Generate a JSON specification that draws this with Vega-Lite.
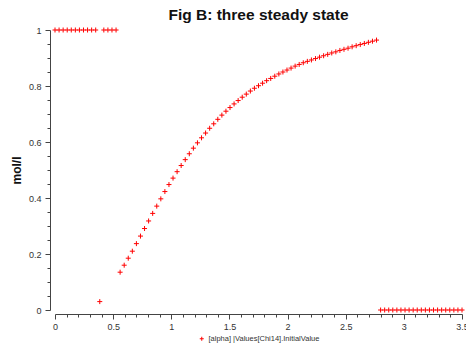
{
  "$schema": "https://vega.github.io/schema/vega-lite/v6.json",
  "autosize": {"type": "none"},
  "width": 407,
  "height": 280,
  "padding": {"left": 55, "top": 30, "right": 4, "bottom": 35},
  "background": "white",
  "title": {
    "text": "Fig B: three steady state",
    "anchor": "middle",
    "font": "Liberation Sans",
    "fontSize": 15.5,
    "fontWeight": "bold",
    "color": "#111",
    "baseline": "alphabetic",
    "offset": 6,
    "dy": 16
  },
  "config": {"view": {"stroke": null}},
  "data": {"values": [
    {"x": 0, "y": 1, "s": "[alpha] |Values[Chi14].InitialValue"},
    {"x": 0.035, "y": 1, "s": "[alpha] |Values[Chi14].InitialValue"},
    {"x": 0.07, "y": 1, "s": "[alpha] |Values[Chi14].InitialValue"},
    {"x": 0.105, "y": 1, "s": "[alpha] |Values[Chi14].InitialValue"},
    {"x": 0.14, "y": 1, "s": "[alpha] |Values[Chi14].InitialValue"},
    {"x": 0.175, "y": 1, "s": "[alpha] |Values[Chi14].InitialValue"},
    {"x": 0.21, "y": 1, "s": "[alpha] |Values[Chi14].InitialValue"},
    {"x": 0.245, "y": 1, "s": "[alpha] |Values[Chi14].InitialValue"},
    {"x": 0.28, "y": 1, "s": "[alpha] |Values[Chi14].InitialValue"},
    {"x": 0.315, "y": 1, "s": "[alpha] |Values[Chi14].InitialValue"},
    {"x": 0.35, "y": 1, "s": "[alpha] |Values[Chi14].InitialValue"},
    {"x": 0.385, "y": 0.03, "s": "[alpha] |Values[Chi14].InitialValue"},
    {"x": 0.42, "y": 1, "s": "[alpha] |Values[Chi14].InitialValue"},
    {"x": 0.455, "y": 1, "s": "[alpha] |Values[Chi14].InitialValue"},
    {"x": 0.49, "y": 1, "s": "[alpha] |Values[Chi14].InitialValue"},
    {"x": 0.525, "y": 1, "s": "[alpha] |Values[Chi14].InitialValue"},
    {"x": 0.56, "y": 0.135, "s": "[alpha] |Values[Chi14].InitialValue"},
    {"x": 0.595, "y": 0.16, "s": "[alpha] |Values[Chi14].InitialValue"},
    {"x": 0.63, "y": 0.185, "s": "[alpha] |Values[Chi14].InitialValue"},
    {"x": 0.665, "y": 0.21, "s": "[alpha] |Values[Chi14].InitialValue"},
    {"x": 0.7, "y": 0.237, "s": "[alpha] |Values[Chi14].InitialValue"},
    {"x": 0.735, "y": 0.264, "s": "[alpha] |Values[Chi14].InitialValue"},
    {"x": 0.77, "y": 0.291, "s": "[alpha] |Values[Chi14].InitialValue"},
    {"x": 0.805, "y": 0.318, "s": "[alpha] |Values[Chi14].InitialValue"},
    {"x": 0.84, "y": 0.345, "s": "[alpha] |Values[Chi14].InitialValue"},
    {"x": 0.875, "y": 0.371, "s": "[alpha] |Values[Chi14].InitialValue"},
    {"x": 0.91, "y": 0.397, "s": "[alpha] |Values[Chi14].InitialValue"},
    {"x": 0.945, "y": 0.423, "s": "[alpha] |Values[Chi14].InitialValue"},
    {"x": 0.98, "y": 0.448, "s": "[alpha] |Values[Chi14].InitialValue"},
    {"x": 1.015, "y": 0.471, "s": "[alpha] |Values[Chi14].InitialValue"},
    {"x": 1.05, "y": 0.494, "s": "[alpha] |Values[Chi14].InitialValue"},
    {"x": 1.085, "y": 0.516, "s": "[alpha] |Values[Chi14].InitialValue"},
    {"x": 1.12, "y": 0.537, "s": "[alpha] |Values[Chi14].InitialValue"},
    {"x": 1.155, "y": 0.558, "s": "[alpha] |Values[Chi14].InitialValue"},
    {"x": 1.19, "y": 0.578, "s": "[alpha] |Values[Chi14].InitialValue"},
    {"x": 1.225, "y": 0.597, "s": "[alpha] |Values[Chi14].InitialValue"},
    {"x": 1.26, "y": 0.615, "s": "[alpha] |Values[Chi14].InitialValue"},
    {"x": 1.295, "y": 0.632, "s": "[alpha] |Values[Chi14].InitialValue"},
    {"x": 1.33, "y": 0.649, "s": "[alpha] |Values[Chi14].InitialValue"},
    {"x": 1.365, "y": 0.665, "s": "[alpha] |Values[Chi14].InitialValue"},
    {"x": 1.4, "y": 0.681, "s": "[alpha] |Values[Chi14].InitialValue"},
    {"x": 1.435, "y": 0.696, "s": "[alpha] |Values[Chi14].InitialValue"},
    {"x": 1.47, "y": 0.71, "s": "[alpha] |Values[Chi14].InitialValue"},
    {"x": 1.505, "y": 0.723, "s": "[alpha] |Values[Chi14].InitialValue"},
    {"x": 1.54, "y": 0.736, "s": "[alpha] |Values[Chi14].InitialValue"},
    {"x": 1.575, "y": 0.748, "s": "[alpha] |Values[Chi14].InitialValue"},
    {"x": 1.61, "y": 0.76, "s": "[alpha] |Values[Chi14].InitialValue"},
    {"x": 1.645, "y": 0.771, "s": "[alpha] |Values[Chi14].InitialValue"},
    {"x": 1.68, "y": 0.782, "s": "[alpha] |Values[Chi14].InitialValue"},
    {"x": 1.715, "y": 0.792, "s": "[alpha] |Values[Chi14].InitialValue"},
    {"x": 1.75, "y": 0.801, "s": "[alpha] |Values[Chi14].InitialValue"},
    {"x": 1.785, "y": 0.81, "s": "[alpha] |Values[Chi14].InitialValue"},
    {"x": 1.82, "y": 0.819, "s": "[alpha] |Values[Chi14].InitialValue"},
    {"x": 1.855, "y": 0.827, "s": "[alpha] |Values[Chi14].InitialValue"},
    {"x": 1.89, "y": 0.835, "s": "[alpha] |Values[Chi14].InitialValue"},
    {"x": 1.925, "y": 0.843, "s": "[alpha] |Values[Chi14].InitialValue"},
    {"x": 1.96, "y": 0.85, "s": "[alpha] |Values[Chi14].InitialValue"},
    {"x": 1.995, "y": 0.857, "s": "[alpha] |Values[Chi14].InitialValue"},
    {"x": 2.03, "y": 0.864, "s": "[alpha] |Values[Chi14].InitialValue"},
    {"x": 2.065, "y": 0.871, "s": "[alpha] |Values[Chi14].InitialValue"},
    {"x": 2.1, "y": 0.877, "s": "[alpha] |Values[Chi14].InitialValue"},
    {"x": 2.135, "y": 0.883, "s": "[alpha] |Values[Chi14].InitialValue"},
    {"x": 2.17, "y": 0.888, "s": "[alpha] |Values[Chi14].InitialValue"},
    {"x": 2.205, "y": 0.893, "s": "[alpha] |Values[Chi14].InitialValue"},
    {"x": 2.24, "y": 0.898, "s": "[alpha] |Values[Chi14].InitialValue"},
    {"x": 2.275, "y": 0.903, "s": "[alpha] |Values[Chi14].InitialValue"},
    {"x": 2.31, "y": 0.908, "s": "[alpha] |Values[Chi14].InitialValue"},
    {"x": 2.345, "y": 0.913, "s": "[alpha] |Values[Chi14].InitialValue"},
    {"x": 2.38, "y": 0.918, "s": "[alpha] |Values[Chi14].InitialValue"},
    {"x": 2.415, "y": 0.922, "s": "[alpha] |Values[Chi14].InitialValue"},
    {"x": 2.45, "y": 0.927, "s": "[alpha] |Values[Chi14].InitialValue"},
    {"x": 2.485, "y": 0.931, "s": "[alpha] |Values[Chi14].InitialValue"},
    {"x": 2.52, "y": 0.935, "s": "[alpha] |Values[Chi14].InitialValue"},
    {"x": 2.555, "y": 0.94, "s": "[alpha] |Values[Chi14].InitialValue"},
    {"x": 2.59, "y": 0.944, "s": "[alpha] |Values[Chi14].InitialValue"},
    {"x": 2.625, "y": 0.948, "s": "[alpha] |Values[Chi14].InitialValue"},
    {"x": 2.66, "y": 0.952, "s": "[alpha] |Values[Chi14].InitialValue"},
    {"x": 2.695, "y": 0.956, "s": "[alpha] |Values[Chi14].InitialValue"},
    {"x": 2.73, "y": 0.96, "s": "[alpha] |Values[Chi14].InitialValue"},
    {"x": 2.765, "y": 0.964, "s": "[alpha] |Values[Chi14].InitialValue"},
    {"x": 2.8, "y": 0, "s": "[alpha] |Values[Chi14].InitialValue"},
    {"x": 2.835, "y": 0, "s": "[alpha] |Values[Chi14].InitialValue"},
    {"x": 2.87, "y": 0, "s": "[alpha] |Values[Chi14].InitialValue"},
    {"x": 2.905, "y": 0, "s": "[alpha] |Values[Chi14].InitialValue"},
    {"x": 2.94, "y": 0, "s": "[alpha] |Values[Chi14].InitialValue"},
    {"x": 2.975, "y": 0, "s": "[alpha] |Values[Chi14].InitialValue"},
    {"x": 3.01, "y": 0, "s": "[alpha] |Values[Chi14].InitialValue"},
    {"x": 3.045, "y": 0, "s": "[alpha] |Values[Chi14].InitialValue"},
    {"x": 3.08, "y": 0, "s": "[alpha] |Values[Chi14].InitialValue"},
    {"x": 3.115, "y": 0, "s": "[alpha] |Values[Chi14].InitialValue"},
    {"x": 3.15, "y": 0, "s": "[alpha] |Values[Chi14].InitialValue"},
    {"x": 3.185, "y": 0, "s": "[alpha] |Values[Chi14].InitialValue"},
    {"x": 3.22, "y": 0, "s": "[alpha] |Values[Chi14].InitialValue"},
    {"x": 3.255, "y": 0, "s": "[alpha] |Values[Chi14].InitialValue"},
    {"x": 3.29, "y": 0, "s": "[alpha] |Values[Chi14].InitialValue"},
    {"x": 3.325, "y": 0, "s": "[alpha] |Values[Chi14].InitialValue"},
    {"x": 3.36, "y": 0, "s": "[alpha] |Values[Chi14].InitialValue"},
    {"x": 3.395, "y": 0, "s": "[alpha] |Values[Chi14].InitialValue"},
    {"x": 3.43, "y": 0, "s": "[alpha] |Values[Chi14].InitialValue"},
    {"x": 3.465, "y": 0, "s": "[alpha] |Values[Chi14].InitialValue"},
    {"x": 3.5, "y": 0, "s": "[alpha] |Values[Chi14].InitialValue"}
  ]},
  "mark": {
    "type": "point",
    "shape": "M-1,0H1M0,-1V1",
    "filled": false,
    "size": 25,
    "strokeWidth": 1,
    "opacity": 1,
    "clip": false
  },
  "encoding": {
    "x": {
      "field": "x",
      "type": "quantitative",
      "scale": {"domain": [0, 3.5], "nice": false, "zero": false},
      "axis": {
        "title": null,
        "grid": false,
        "offset": 4,
        "values": [0, 0.1, 0.2, 0.3, 0.4, 0.5, 0.6, 0.7, 0.8, 0.9, 1, 1.1, 1.2, 1.3, 1.4, 1.5, 1.6, 1.7, 1.8, 1.9, 2, 2.1, 2.2, 2.3, 2.4, 2.5, 2.6, 2.7, 2.8, 2.9, 3, 3.1, 3.2, 3.3, 3.4, 3.5],
        "labelExpr": "abs(datum.value*2 - round(datum.value*2)) < 1e-6 ? format(datum.value, '.1~f') : ''",
        "tickSize": {"condition": {"test": "abs(datum.value*2 - round(datum.value*2)) < 1e-6", "value": 5}, "value": 3},
        "labelOverlap": false,
        "labelBound": false,
        "labelFlush": false,
        "labelFont": "Liberation Sans",
        "labelFontSize": 9,
        "labelColor": "#333",
        "labelPadding": 3,
        "domainColor": "#444",
        "tickColor": "#444"
      }
    },
    "y": {
      "field": "y",
      "type": "quantitative",
      "scale": {"domain": [0, 1], "nice": false},
      "axis": {
        "title": "mol/l",
        "titleFont": "Liberation Sans",
        "titleFontSize": 12,
        "titleFontWeight": "bold",
        "titleColor": "#111",
        "titlePadding": 5,
        "grid": false,
        "offset": 5,
        "values": [0, 0.05, 0.1, 0.15, 0.2, 0.25, 0.3, 0.35, 0.4, 0.45, 0.5, 0.55, 0.6, 0.65, 0.7, 0.75, 0.8, 0.85, 0.9, 0.95, 1],
        "labelExpr": "abs(datum.value*5 - round(datum.value*5)) < 1e-6 ? format(datum.value, '.1~f') : ''",
        "tickSize": {"condition": {"test": "abs(datum.value*5 - round(datum.value*5)) < 1e-6", "value": 5}, "value": 3},
        "labelOverlap": false,
        "labelBound": false,
        "labelFlush": false,
        "labelFont": "Liberation Sans",
        "labelFontSize": 9,
        "labelColor": "#333",
        "labelPadding": 4,
        "domainColor": "#444",
        "tickColor": "#444"
      }
    },
    "color": {
      "field": "s",
      "type": "nominal",
      "scale": {"range": ["#ff0000"]},
      "legend": {
        "title": null,
        "orient": "none",
        "legendX": 143,
        "legendY": 305,
        "padding": 0,
        "symbolType": "M-1,0H1M0,-1V1",
        "symbolSize": 16,
        "symbolStrokeWidth": 1,
        "labelFont": "Liberation Sans",
        "labelFontSize": 7.5,
        "labelColor": "#333",
        "labelOffset": 3
      }
    }
  }
}
